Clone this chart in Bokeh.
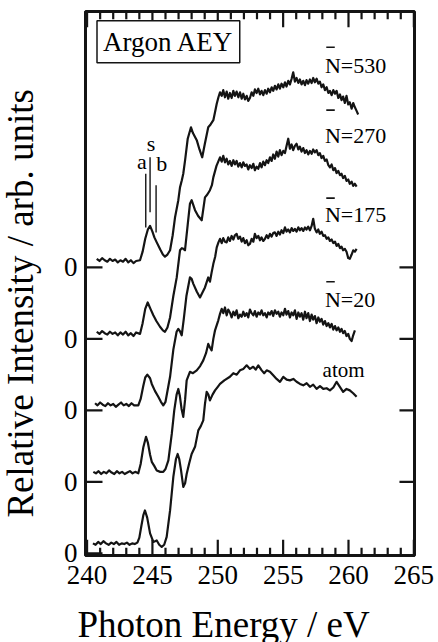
import numpy as np
from bokeh.plotting import figure
from bokeh.layouts import row, column
from bokeh.models import Range1d, FixedTicker, LinearAxis, Label
from bokeh.core.properties import value
from bokeh.embed import file_html
from bokeh.resources import INLINE

# ---------------- data (photon energy eV, offset intensity) ----------------
atom_pts = [(240.45,0.14),(240.65,0.12),(240.85,0.16),(241.05,0.13),(241.25,0.17),(241.45,0.14),(241.65,0.12),
    (241.85,0.15),(242.05,0.13),(242.25,0.16),(242.45,0.12),(242.65,0.14),(242.85,0.13),(243.05,0.15),(243.25,0.12),
    (243.45,0.14),(243.65,0.13),(243.85,0.15),(244.0,0.22),(244.15,0.38),(244.3,0.53),(244.43,0.60),(244.6,0.50),
    (244.82,0.28),(245.07,0.16),(245.33,0.18),(245.52,0.12),(245.71,0.09),(245.9,0.12),(246.09,0.23),(246.35,0.60),
    (246.6,1.07),(246.8,1.32),(246.93,1.39),(247.05,1.32),(247.19,1.16),(247.36,0.93),(247.5,0.98),(247.62,1.11),
    (247.8,1.25),(248.0,1.39),(248.26,1.49),(248.51,1.72),(248.7,1.78),(248.89,1.86),(249.02,2.09),(249.15,2.26),
    (249.28,2.22),(249.4,2.14),(249.6,2.22),(249.79,2.28),(250.0,2.33),(250.17,2.37),(250.5,2.42),(250.93,2.47),
    (251.19,2.52),(251.45,2.50),(251.7,2.56),(251.95,2.58),(252.21,2.63),(252.46,2.58),(252.71,2.61),(252.9,2.57),
    (253.1,2.63),(253.36,2.56),(253.55,2.52),(253.74,2.56),(253.99,2.54),(254.24,2.49),(254.5,2.44),(254.76,2.40),
    (255.01,2.47),(255.27,2.43),(255.52,2.42),(255.78,2.44),(256.03,2.40),(256.29,2.37),(256.54,2.35),(256.8,2.38),
    (257.05,2.33),(257.3,2.36),(257.56,2.30),(257.82,2.34),(258.07,2.30),(258.33,2.31),(258.58,2.28),(258.84,2.32),
    (259.09,2.40),(259.34,2.33),(259.59,2.26),(259.85,2.30),(260.1,2.28),(260.36,2.24),(260.62,2.19)]

n20_pts = [(240.48,1.14),(240.68,1.12),(240.88,1.15),(241.08,1.11),(241.28,1.14),(241.48,1.12),(241.68,1.16),
    (241.88,1.13),(242.08,1.11),(242.28,1.15),(242.48,1.12),(242.68,1.14),(242.88,1.11),(243.08,1.13),(243.28,1.15),
    (243.48,1.12),(243.68,1.14),(243.92,1.12),(244.1,1.25),(244.3,1.48),(244.51,1.63),(244.65,1.55),(244.82,1.38),
    (244.95,1.28),(245.15,1.22),(245.33,1.16),(245.6,1.14),(245.83,1.14),(246.0,1.18),(246.22,1.30),(246.48,1.67),
    (246.67,2.00),(246.85,2.22),(246.98,2.30),(247.1,2.20),(247.23,2.02),(247.36,1.91),(247.5,2.15),(247.62,2.42),
    (247.87,2.54),(248.1,2.52),(248.39,2.56),(248.65,2.62),(248.89,2.70),(249.1,2.80),(249.27,2.93),(249.4,2.88),
    (249.53,2.84),(249.66,3.00),(249.79,3.12),(250.04,3.26),(250.17,3.35),(250.3,3.42),(250.42,3.36),(250.55,3.44),
    (250.68,3.33),(250.8,3.41),(250.93,3.37),(251.06,3.30),(251.19,3.38),(251.31,3.33),(251.44,3.40),(251.57,3.29),
    (251.7,3.34),(251.83,3.31),(251.95,3.38),(252.08,3.32),(252.21,3.36),(252.33,3.30),(252.46,3.41),(252.59,3.36),
    (252.72,3.33),(252.84,3.39),(252.97,3.31),(253.1,3.37),(253.23,3.34),(253.35,3.40),(253.48,3.33),(253.61,3.36),
    (253.74,3.30),(253.86,3.37),(253.99,3.34),(254.12,3.39),(254.24,3.32),(254.37,3.40),(254.5,3.35),(254.63,3.38),
    (254.75,3.31),(254.88,3.37),(255.01,3.33),(255.14,3.42),(255.26,3.34),(255.39,3.39),(255.52,3.30),(255.65,3.37),
    (255.77,3.33),(255.9,3.40),(256.03,3.28),(256.16,3.37),(256.28,3.31),(256.41,3.36),(256.54,3.27),(256.67,3.38),
    (256.79,3.29),(256.92,3.36),(257.05,3.25),(257.18,3.34),(257.3,3.27),(257.43,3.32),(257.56,3.22),(257.69,3.30),
    (257.81,3.24),(257.94,3.28),(258.07,3.20),(258.2,3.25),(258.33,3.18),(258.46,3.22),(258.58,3.16),(258.71,3.21),
    (258.84,3.13),(258.97,3.18),(259.09,3.12),(259.22,3.16),(259.35,3.10),(259.47,3.14),(259.59,3.08),(259.72,3.11),
    (259.85,3.04),(259.98,3.07),(260.1,3.00),(260.24,2.97),(260.36,3.05),(260.49,3.12)]

n175_pts = [(240.61,2.10),(240.8,2.07),(241.0,2.11),(241.2,2.08),(241.4,2.06),(241.6,2.10),(241.8,2.07),(242.0,2.09),
    (242.2,2.05),(242.4,2.08),(242.6,2.11),(242.8,2.07),(243.0,2.09),(243.2,2.06),(243.4,2.10),(243.6,2.07),(243.92,2.07),
    (244.1,2.16),(244.3,2.34),(244.45,2.46),(244.61,2.50),(244.82,2.45),(244.95,2.37),(245.2,2.27),(245.45,2.19),
    (245.65,2.12),(245.83,2.07),(246.0,2.12),(246.35,2.47),(246.6,2.85),(246.85,3.10),(246.98,3.14),(247.1,3.11),
    (247.24,3.05),(247.4,3.28),(247.6,3.60),(247.87,3.86),(248.0,3.84),(248.13,3.77),(248.4,3.66),(248.64,3.58),
    (248.8,3.64),(249.02,3.72),(249.27,3.86),(249.4,3.80),(249.53,3.93),(249.66,4.05),(249.8,4.15),(249.92,4.28),
    (250.05,4.35),(250.17,4.40),(250.3,4.34),(250.42,4.41),(250.55,4.36),(250.68,4.35),(250.8,4.42),(250.93,4.37),
    (251.06,4.44),(251.19,4.39),(251.31,4.45),(251.44,4.47),(251.57,4.40),(251.7,4.43),(251.83,4.36),(251.95,4.41),
    (252.08,4.34),(252.21,4.38),(252.33,4.31),(252.46,4.33),(252.59,4.40),(252.72,4.36),(252.84,4.47),(252.97,4.41),
    (253.1,4.44),(253.23,4.38),(253.35,4.42),(253.48,4.37),(253.61,4.40),(253.74,4.45),(253.86,4.41),(253.99,4.47),
    (254.12,4.43),(254.24,4.48),(254.37,4.49),(254.5,4.44),(254.63,4.50),(254.75,4.46),(254.88,4.52),(255.01,4.48),
    (255.14,4.56),(255.26,4.50),(255.39,4.53),(255.52,4.49),(255.65,4.55),(255.77,4.51),(255.9,4.54),(256.03,4.50),
    (256.16,4.56),(256.28,4.52),(256.41,4.55),(256.54,4.51),(256.67,4.56),(256.79,4.53),(256.92,4.57),(257.05,4.52),
    (257.18,4.58),(257.3,4.68),(257.43,4.54),(257.56,4.49),(257.69,4.53),(257.81,4.47),(257.94,4.50),(258.07,4.44),
    (258.2,4.45),(258.33,4.40),(258.46,4.42),(258.58,4.37),(258.71,4.39),(258.84,4.34),(258.97,4.36),(259.09,4.30),
    (259.22,4.33),(259.35,4.27),(259.47,4.29),(259.59,4.24),(259.72,4.26),(259.85,4.22),(259.98,4.13),(260.1,4.12),
    (260.24,4.18),(260.36,4.24),(260.49,4.22),(260.62,4.26)]

n270_pts = [(240.74,3.10),(240.95,3.07),(241.15,3.11),(241.35,3.08),(241.55,3.06),(241.75,3.10),(241.95,3.07),
    (242.15,3.09),(242.35,3.05),(242.55,3.09),(242.75,3.06),(242.95,3.10),(243.15,3.05),(243.35,3.08),(243.55,3.04),
    (243.75,3.09),(244.05,3.07),(244.25,3.22),(244.45,3.42),(244.64,3.51),(244.85,3.42),(245.07,3.33),(245.3,3.25),
    (245.58,3.17),(245.8,3.12),(245.96,3.10),(246.15,3.16),(246.35,3.30),(246.6,3.60),(246.86,3.86),(247.11,4.24),
    (247.25,4.27),(247.36,4.26),(247.49,4.24),(247.7,4.60),(247.87,4.89),(248.0,4.94),(248.26,4.80),(248.5,4.72),
    (248.77,4.66),(249.02,4.98),(249.2,5.02),(249.4,5.08),(249.55,5.15),(249.66,5.26),(249.9,5.42),(250.17,5.54),
    (250.3,5.48),(250.42,5.56),(250.55,5.47),(250.68,5.52),(250.8,5.44),(250.93,5.49),(251.06,5.42),(251.19,5.50),
    (251.31,5.44),(251.44,5.49),(251.57,5.41),(251.7,5.46),(251.83,5.40),(251.95,5.47),(252.08,5.42),(252.21,5.44),
    (252.33,5.37),(252.46,5.43),(252.59,5.39),(252.72,5.45),(252.84,5.36),(252.97,5.41),(253.1,5.38),(253.23,5.46),
    (253.35,5.40),(253.48,5.48),(253.61,5.43),(253.74,5.50),(253.86,5.46),(253.99,5.54),(254.12,5.49),(254.24,5.58),
    (254.37,5.52),(254.5,5.62),(254.63,5.55),(254.75,5.64),(254.88,5.57),(255.01,5.63),(255.14,5.60),(255.26,5.70),
    (255.39,5.80),(255.52,5.66),(255.65,5.72),(255.77,5.64),(255.9,5.70),(256.03,5.73),(256.16,5.65),(256.28,5.69),
    (256.41,5.62),(256.54,5.67),(256.67,5.60),(256.79,5.64),(256.92,5.58),(257.05,5.63),(257.18,5.59),(257.3,5.65),
    (257.43,5.61),(257.56,5.64),(257.69,5.57),(257.81,5.60),(257.94,5.53),(258.07,5.56),(258.2,5.49),(258.33,5.51),
    (258.46,5.43),(258.58,5.40),(258.71,5.44),(258.84,5.36),(258.97,5.39),(259.09,5.32),(259.22,5.35),(259.35,5.29),
    (259.47,5.31),(259.59,5.25),(259.72,5.28),(259.85,5.21),(259.98,5.23),(260.1,5.17),(260.24,5.20),(260.36,5.14),
    (260.49,5.17),(260.62,5.13)]

n530_pts = [(240.74,4.12),(240.95,4.09),(241.15,4.13),(241.35,4.10),(241.55,4.08),(241.75,4.12),(241.95,4.09),
    (242.15,4.11),(242.35,4.07),(242.55,4.10),(242.75,4.08),(242.95,4.12),(243.15,4.07),(243.35,4.10),(243.55,4.06),
    (243.75,4.09),(244.05,4.10),(244.25,4.22),(244.45,4.40),(244.65,4.53),(244.82,4.58),(245.0,4.50),(245.15,4.42),
    (245.33,4.35),(245.6,4.25),(245.8,4.18),(245.96,4.15),(246.15,4.18),(246.35,4.24),(246.55,4.45),(246.73,4.70),
    (246.98,4.94),(247.11,5.12),(247.25,5.22),(247.36,5.31),(247.5,5.50),(247.7,5.80),(247.95,5.96),(248.1,5.88),
    (248.39,5.78),(248.6,5.65),(248.81,5.54),(249.0,5.72),(249.27,5.96),(249.45,6.00),(249.66,6.06),(249.8,6.18),
    (249.92,6.29),(250.05,6.38),(250.17,6.45),(250.3,6.40),(250.42,6.48),(250.55,6.38),(250.68,6.46),(250.8,6.36),
    (250.93,6.44),(251.06,6.37),(251.19,6.47),(251.31,6.40),(251.44,6.46),(251.57,6.38),(251.7,6.45),(251.83,6.36),
    (251.95,6.43),(252.08,6.35),(252.21,6.40),(252.33,6.33),(252.46,6.37),(252.59,6.45),(252.72,6.40),(252.84,6.49),
    (252.97,6.44),(253.1,6.50),(253.23,6.42),(253.35,6.47),(253.48,6.41),(253.61,6.48),(253.74,6.43),(253.86,6.50),
    (253.99,6.45),(254.12,6.52),(254.24,6.47),(254.37,6.54),(254.5,6.49),(254.63,6.56),(254.75,6.50),(254.88,6.57),
    (255.01,6.52),(255.14,6.59),(255.26,6.53),(255.39,6.61),(255.52,6.56),(255.65,6.64),(255.77,6.73),(255.9,6.60),
    (256.03,6.65),(256.16,6.58),(256.28,6.63),(256.41,6.56),(256.54,6.61),(256.67,6.55),(256.79,6.62),(256.92,6.57),
    (257.05,6.63),(257.18,6.58),(257.3,6.65),(257.43,6.59),(257.56,6.64),(257.69,6.57),(257.81,6.60),(257.94,6.52),
    (258.07,6.56),(258.2,6.48),(258.33,6.52),(258.46,6.44),(258.58,6.47),(258.71,6.41),(258.84,6.48),(258.97,6.43),
    (259.09,6.47),(259.22,6.37),(259.35,6.42),(259.47,6.34),(259.59,6.39),(259.72,6.30),(259.85,6.40),(259.98,6.28),
    (260.1,6.31),(260.24,6.22),(260.36,6.30),(260.49,6.24),(260.62,6.19),(260.74,6.14)]

curves = [atom_pts, n20_pts, n175_pts, n270_pts, n530_pts]

curve_labels = ["N=530", "N=270", "N=175", "N=20", "atom"]
label_x = [258.2, 258.2, 258.2, 258.2, 258.02]
label_y = [6.82, 5.84, 4.74, 3.55, 2.57]
bar_y = [7.08, 6.20, 4.97, 3.80]

mark_names = ["a", "s", "b"]
mark_x = [244.49, 244.82, 245.28]
mark_y0 = [4.56, 4.77, 4.49]
mark_y1 = [5.31, 5.54, 5.15]
mark_text_x = [244.2, 244.89, 245.72]
mark_text_y = [5.48, 5.74, 5.46]

x_major = [240, 245, 250, 255, 260, 265]
x_minor = [241, 242, 243, 244, 246, 247, 248, 249, 251, 252, 253, 254, 256, 257, 258, 259, 261, 262, 263, 264]
y_zero_left = [0, 1, 2, 3, 4]
y_zero_right = [1, 2, 3, 4]

x_title = "Photon Energy / eV"
y_title = "Relative Intensity / arb. units"

FONT = "Liberation Serif"
INK = "#141414"
X0, X1 = 239.88, 265.05
Y0, Y1 = -0.03, 7.58

# canvas geometry (pixels)
W_TOTAL, H_TOTAL = 438, 642
YT_W = 45          # strip holding the vertical axis title
MAIN_H = 602       # main plot height
XT_H = H_TOTAL - MAIN_H

p = figure(width=W_TOTAL - YT_W, height=MAIN_H, x_range=Range1d(X0, X1), y_range=Range1d(Y0, Y1),
           output_backend="svg", toolbar_location=None, x_axis_location=None, y_axis_location=None,
           min_border_left=85 - YT_W, min_border_right=24, min_border_top=11, min_border_bottom=MAIN_H - 555)
p.grid.visible = False
p.outline_line_color = INK
p.outline_line_width = 3
p.background_fill_color = "white"
p.border_fill_color = "white"


def style_axis(ax, standoff):
    ax.axis_line_color = INK
    ax.axis_line_width = 3
    ax.major_tick_in = 0
    ax.major_tick_out = 0
    ax.minor_tick_in = 0
    ax.minor_tick_out = 0
    ax.major_label_text_font = FONT
    ax.major_label_text_color = "black"
    ax.major_label_text_font_size = "27px"
    ax.major_label_standoff = standoff


bottom = LinearAxis(ticker=FixedTicker(ticks=x_major, minor_ticks=x_minor))
style_axis(bottom, 10)
p.add_layout(bottom, "below")

left = LinearAxis(ticker=FixedTicker(ticks=y_zero_left, minor_ticks=[]))
style_axis(left, 8)
left.major_label_overrides = {v: "0" for v in y_zero_left}
p.add_layout(left, "left")

# inward tick marks on all four frame edges (drawn through the data scales)
major_len_y = 0.22   # vertical tick length, intensity units
minor_len_y = 0.11
left_len_x = 1.30    # horizontal tick length, eV
right_len_x = 1.15
nM, nm = len(x_major), len(x_minor)
p.segment(x0=x_major, y0=[Y1] * nM, x1=x_major, y1=[Y1 - major_len_y] * nM, line_color=INK, line_width=2.2)
p.segment(x0=x_minor, y0=[Y1] * nm, x1=x_minor, y1=[Y1 - minor_len_y] * nm, line_color=INK, line_width=2.2)
p.segment(x0=x_major, y0=[Y0] * nM, x1=x_major, y1=[Y0 + major_len_y] * nM, line_color=INK, line_width=2.2)
p.segment(x0=x_minor, y0=[Y0] * nm, x1=x_minor, y1=[Y0 + minor_len_y] * nm, line_color=INK, line_width=2.2)
p.segment(x0=[X0] * len(y_zero_left), y0=y_zero_left, x1=[X0 + left_len_x] * len(y_zero_left),
          y1=y_zero_left, line_color=INK, line_width=2.2)
p.segment(x0=[X1] * len(y_zero_right), y0=y_zero_right, x1=[X1 - right_len_x] * len(y_zero_right),
          y1=y_zero_right, line_color=INK, line_width=2.2)

for pts in curves:
    xs = [q[0] for q in pts]
    ys = [q[1] for q in pts]
    p.line(xs, ys, line_color=INK, line_width=2.2, line_join="round")

# a, s, b markers
p.segment(x0=mark_x, y0=mark_y0, x1=mark_x, y1=mark_y1, line_color=INK, line_width=1.4)
p.text(x=mark_text_x, y=mark_text_y, text=mark_names, text_font=value(FONT), text_font_size="22px",
       text_align="center", text_baseline="alphabetic", text_color="black")

# series labels
p.text(x=label_x[:4], y=label_y[:4], text=curve_labels[:4], text_font=value(FONT), text_font_size="22px",
       text_align="left", text_baseline="alphabetic", text_color="black")
p.text(x=label_x[4:], y=label_y[4:], text=curve_labels[4:], text_font=value(FONT), text_font_size="21px",
       text_align="left", text_baseline="alphabetic", text_color="black")
bx0 = [v + 0.1 for v in label_x[:4]]
bx1 = [v + 0.75 for v in label_x[:4]]
p.segment(x0=bx0, y0=bar_y, x1=bx1, y1=bar_y, line_color=INK, line_width=1.6)

# boxed title
p.add_layout(Label(x=240.76, y=7.45, text="Argon AEY", text_font=FONT, text_font_size="27px",
                   text_align="left", text_baseline="top", text_color="black",
                   border_line_color=INK, border_line_width=1.5, background_fill_color="white",
                   padding=6))


def text_strip(w, h, y_range):
    f = figure(width=w, height=h, x_range=Range1d(0, w), y_range=y_range,
               output_backend="svg", toolbar_location=None, x_axis_location=None, y_axis_location=None,
               min_border_left=0, min_border_right=0, min_border_top=0, min_border_bottom=0)
    f.grid.visible = False
    f.outline_line_color = None
    f.background_fill_color = "white"
    f.border_fill_color = "white"
    return f


# vertical axis title strip: its frame lines up with the main frame, so it shares the y scale
yt = text_strip(YT_W, MAIN_H, Range1d(Y0, Y1))
yt.text(x=[20], y=[0.50], text=[y_title], angle=np.pi / 2, text_font=value(FONT),
        text_font_size="37px", text_align="left", text_baseline="alphabetic", text_color="black")

# horizontal axis title strip (pixel coordinates)
xt = text_strip(W_TOTAL, XT_H, Range1d(0, XT_H))
xt.text(x=[77], y=[18], text=[x_title], text_font=value(FONT),
        text_font_size="37px", text_align="left", text_baseline="alphabetic", text_color="black")

layout = column(row(yt, p, spacing=0), xt, spacing=0)
open("out.html", "w").write(file_html(layout, INLINE))
